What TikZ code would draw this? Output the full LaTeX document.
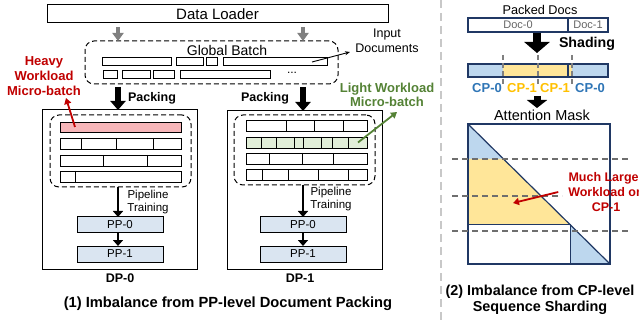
\documentclass[tikz,border=0pt]{standalone}
\usepackage{fontspec}
\setmainfont{Liberation Sans}
\usetikzlibrary{arrows.meta,calc}
\definecolor{navy}{RGB}{32,56,100}
\definecolor{ppblue}{RGB}{218,229,241}
\definecolor{cpblue}{RGB}{189,215,238}
\definecolor{cpyellow}{RGB}{255,230,153}
\definecolor{heavypink}{RGB}{247,182,185}
\definecolor{lightgreen}{RGB}{226,239,217}
\definecolor{redtxt}{RGB}{192,0,0}
\definecolor{greentxt}{RGB}{84,130,53}
\definecolor{cpzero}{RGB}{46,117,182}
\definecolor{cpone}{RGB}{255,192,0}
\definecolor{arrowgray}{RGB}{128,128,128}
\definecolor{sepgray}{RGB}{200,200,200}
\definecolor{maskdash}{RGB}{110,110,110}
\definecolor{docgray}{RGB}{100,100,100}
\newcommand\fsz[1]{\fontsize{#1}{#1}\selectfont}
\begin{document}
\begin{tikzpicture}[x=1pt,y=-1pt,
  box/.style={draw=black,line width=1pt,inner sep=0pt,outer sep=0pt,anchor=north west},
  dashbox/.style={draw=black,line width=1pt,dash pattern=on 5pt off 3pt,rounded corners=9pt,inner sep=0pt,outer sep=0pt,anchor=north west},
  rowline/.style={draw=black,line width=0.8pt},
  rowbox/.style={draw=black,line width=0.8pt,inner sep=0pt,outer sep=0pt,anchor=north west},
  ppbox/.style={draw=black,line width=1pt,fill=ppblue,inner sep=0pt,outer sep=0pt,anchor=north west,minimum width=86pt,minimum height=16pt,font=\fsz{11.5}},
  navybox/.style={draw=navy,line width=1.2pt,inner sep=0pt,outer sep=0pt,anchor=north west},
  cpseg/.style={inner sep=0pt,outer sep=0pt,anchor=north west,minimum height=13pt},
  grayarrow/.style={draw=arrowgray,line width=4pt,-{Triangle[length=8pt,width=11pt]}},
  packarrow/.style={draw=black,line width=5.5pt,-{Triangle[length=9pt,width=15pt]}},
  pipearrow/.style={draw=black,line width=2.5pt,-{Triangle[length=6pt,width=10pt]}},
  fatarrow/.style={draw=black,line width=8pt,-{Triangle[length=11pt,width=25pt]}},
  fatarrowb/.style={draw=black,line width=7pt,-{Triangle[length=8pt,width=20pt]}},
  thinarrow/.style={draw=black,line width=0.9pt,-{Stealth[length=5pt,width=4pt]}},
  redarrow/.style={draw=redtxt,line width=1.8pt,-{Triangle[length=6pt,width=7pt]}},
  greenarrow/.style={draw=greentxt,line width=1.8pt,-{Triangle[length=6pt,width=7pt]}},
  lbl/.style={inner sep=0pt,outer sep=0pt},
  cplbl/.style={inner sep=0pt,outer sep=0pt,font=\fsz{13}\bfseries},
  vdash/.style={draw=arrowgray,line width=1.2pt,dash pattern=on 5pt off 3pt},
  hdash/.style={draw=maskdash,line width=1.5pt,dash pattern=on 6pt off 4pt},
]
\useasboundingbox (0,0) rectangle (639,320);

% ---------- left panel ----------
\coordinate (colL) at (118,0);
\coordinate (colR) at (303,0);
\node[box,minimum width=341pt,minimum height=18pt,font=\fsz{15}] (dl) at (47,5) {Data Loader};

\node[dashbox,minimum width=253pt,minimum height=43pt] (gb) at (85,41) {};
\node[lbl,font=\fsz{14}] (gbl) at (227,50) {Global Batch};
\draw[rowline] (102,57) rectangle (171,65) (176,57) rectangle (203,65)
  (206,57) rectangle (217,65) (223,57) rectangle (327,65);
\draw[rowline] (103,70) rectangle (117,78) (122,70) rectangle (150,78)
  (153,70) rectangle (174,78) (180,70) rectangle (270,78);
\node[lbl,font=\fsz{12}] (gbdots) at (292,73) {...};

\node[lbl,align=center,font=\fontsize{12.5}{15}\selectfont] (indoc) at (387,41) {Input\\Documents};
\coordinate (docsrc) at (312,62);
\coordinate (docend) at (350,52);
\draw[thinarrow] (docsrc) -- (docend);

\node[lbl,align=center,text=redtxt,font=\fontsize{13}{15}\selectfont\bfseries] (heavy) at (44,76) {Heavy\\Workload\\Micro-batch};
\node[lbl,align=center,text=greentxt,font=\fontsize{13}{14}\selectfont\bfseries] (light) at (387,95) {Light Workload\\Micro-batch};

\node[lbl,font=\fsz{12.5}\bfseries] (pk0) at (152,98) {Packing};
\node[lbl,font=\fsz{12.5}\bfseries] (pk1) at (265,98) {Packing};

% DP-0
\node[box,minimum width=155pt,minimum height=159pt] (dp0) at (42,110) {};
\node[dashbox,minimum width=141pt,minimum height=72pt] (in0) at (50,115) {};
\node[rowbox,fill=heavypink,minimum width=121pt,minimum height=10pt] (hrow) at (60,122) {};
\draw[rowline] (60,138) rectangle (181,149);
\foreach \x in {81,116,153} \draw[rowline] (\x,138) -- (\x,149);
\draw[rowline] (60,155) rectangle (181,166);
\foreach \x in {103,147} \draw[rowline] (\x,155) -- (\x,166);
\draw[rowline] (60,171) rectangle (181,182);
\draw[rowline] (75,171) -- (75,182);
\node[ppbox] (pp00) at (77,217) {PP-0};
\node[ppbox] (pp01) at (77,246) {PP-1};
\node[lbl,align=center,font=\fontsize{11.5}{13}\selectfont] (pipe0) at (148,202) {Pipeline\\Training};
\node[lbl,font=\fsz{12.5}\bfseries] (dp0l) at (120,278) {DP-0};

% DP-1
\node[box,minimum width=155pt,minimum height=158pt] (dp1) at (227,111) {};
\node[dashbox,minimum width=141pt,minimum height=70pt] (in1) at (234,115) {};
\draw[rowline] (246,120) rectangle (367,131);
\foreach \x in {286,314,343} \draw[rowline] (\x,120) -- (\x,131);
\node[rowbox,fill=lightgreen,minimum width=121pt,minimum height=11pt] (lrow) at (246,137) {};
\foreach \x in {261,276,294,303,321,332,348} \draw[rowline] (\x,137) -- (\x,148);
\draw[rowline] (246,153) rectangle (367,164);
\foreach \x in {269,302,333} \draw[rowline] (\x,153) -- (\x,164);
\draw[rowline] (246,169) rectangle (367,180);
\foreach \x in {262,288,318,348} \draw[rowline] (\x,169) -- (\x,180);
\node[ppbox] (pp10) at (260,217) {PP-0};
\node[ppbox] (pp11) at (260,246) {PP-1};
\node[lbl,align=center,font=\fontsize{11.5}{13}\selectfont] (pipe1) at (331,199) {Pipeline\\Training};
\node[lbl,font=\fsz{12.5}\bfseries] (dp1l) at (300,278) {DP-1};

\node[lbl,font=\fsz{14.7}\bfseries] (cap1) at (228,304) {(1) Imbalance from PP-level Document Packing};

% arrows left
\draw[grayarrow] ([yshift=-4pt]dl.south -| colL) -- (gb.north -| colL);
\draw[grayarrow] ([yshift=-4pt]dl.south -| colR) -- (gb.north -| colR);
\draw[packarrow] ([yshift=-3pt]gb.south -| colL) -- (dp0.north -| colL);
\draw[packarrow] ([yshift=-3pt]gb.south -| colR) -- (dp1.north -| colR);
\draw[pipearrow] (in0.south -| colL) -- (pp00.north -| colL);
\draw[pipearrow] (pp00.south -| colL) -- (pp01.north -| colL);
\draw[pipearrow] (in1.south -| colR) -- (pp10.north -| colR);
\draw[pipearrow] (pp10.south -| colR) -- (pp11.north -| colR);
\coordinate (heavytip) at (66,98);
\draw[redarrow] ([xshift=15pt]hrow.west) -- (heavytip);
\coordinate (lighttip) at (397,112);
\draw[greenarrow] ([xshift=-9pt]lrow.east) -- (lighttip);

% separator
\draw[draw=sepgray,line width=2.5pt,dash pattern=on 8pt off 5pt] (441,0) -- (441,320);

% ---------- right panel ----------
\coordinate (midx) at (537,0);
\node[lbl,font=\fsz{12.7}] (pdocs) at (540,10) {Packed Docs};
\node[navybox,minimum width=100pt,minimum height=14pt,font=\fsz{11},text=docgray] (doc0) at (468,18) {Doc-0};
\node[navybox,minimum width=40pt,minimum height=14pt,font=\fsz{11},text=docgray] (doc1) at (568,18) {Doc-1};
\coordinate (shadetip) at (537,53);
\draw[fatarrow] ([yshift=-1pt]doc0.south -| midx) -- (shadetip);
\node[lbl,font=\fsz{14.2}\bfseries] (shading) at (587,44) {Shading};

\node[cpseg,fill=cpblue,minimum width=35pt] (cpa) at (468,64) {};
\node[cpseg,fill=cpyellow,minimum width=65pt] (cpb) at (503,64) {};
\node[cpseg,fill=cpyellow,minimum width=4pt] (cpc) at (568,64) {};
\node[cpseg,fill=cpblue,minimum width=36pt] (cpd) at (572,64) {};
\draw[navy,line width=1.2pt] (cpa.north west) rectangle (cpd.south east);
\draw[navy,line width=2pt] (cpb.north east) -- (cpb.south east);
\foreach \x in {503,538,572} \draw[vdash] (\x,55) -- (\x,84);
\node[cplbl,text=cpzero] (cpl1) at (487,88) {CP-0};
\node[cplbl,text=cpone] (cpl2) at (522,88) {CP-1};
\node[cplbl,text=cpone] (cpl3) at (555,88) {CP-1};
\node[cplbl,text=cpzero] (cpl4) at (590,88) {CP-0};
\coordinate (masktip) at (537,108);
\draw[fatarrowb] ([yshift=-19pt]cpb.south -| midx) -- (masktip);
\node[lbl,font=\fsz{14.5}] (attn) at (542,115) {Attention Mask};

\coordinate (mnw) at (468,124);
\coordinate (mse) at (610,264);
\coordinate (p1) at ($(mnw)!0.25!(mse)$);
\coordinate (p2) at ($(mnw)!0.72!(mse)$);
\fill[cpblue] (mnw) -- (p1) -- (mnw |- p1) -- cycle;
\fill[cpyellow] (mnw |- p1) -- (p1) -- (p2) -- (mnw |- p2) -- cycle;
\fill[cpblue] (p2) -- (mse) -- (p2 |- mse) -- cycle;
\draw[navy,line width=1.2pt] (mnw) -- (mse);
\draw[navy,line width=1.2pt] (mnw |- p2) -- (p2) -- (p2 |- mse);
\node[navybox,minimum width=142pt,minimum height=140pt] (mask) at (mnw) {};
\draw[hdash] (452,159) -- (628,159);
\draw[hdash] (452,196) -- (562,196);
\draw[hdash] (452,231) -- (628,231);

\node[lbl,align=center,text=redtxt,font=\fontsize{12.5}{15}\selectfont\bfseries] (much) at (606,192) {Much Larger\\Workload on\\CP-1};
\coordinate (muchtip) at (513,203);
\draw[redarrow] ([xshift=-10pt]much.west) -- (muchtip);

\node[lbl,align=center,font=\fontsize{14.4}{16}\selectfont\bfseries] (cap2) at (540,300) {(2) Imbalance from CP-level\\Sequence Sharding};
\end{tikzpicture}
\end{document}
